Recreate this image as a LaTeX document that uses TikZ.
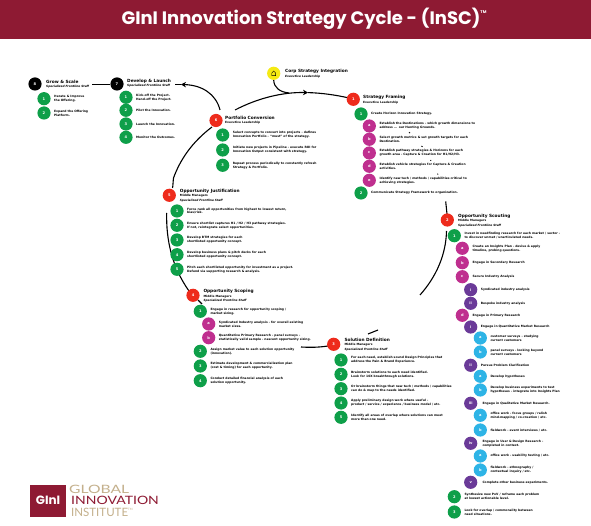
\documentclass[tikz,border=0pt]{standalone}
\usepackage{fontspec}
\usepackage{graphicx}
\usetikzlibrary{arrows.meta}
\setmainfont{DejaVu Sans}
\newfontfamily\titlef{Poppins}
\newfontfamily\logof{Lato}
\definecolor{ginired}{HTML}{8E1A33}
\definecolor{stepred}{HTML}{EE2B1C}
\definecolor{itemgreen}{HTML}{0E9F49}
\definecolor{itemmag}{HTML}{BF2F8F}
\definecolor{itempur}{HTML}{6A3A98}
\definecolor{itemcya}{HTML}{2EB4E6}
\definecolor{corpyel}{HTML}{F5EA14}
\definecolor{logotan}{HTML}{C4B08C}
\tikzset{
  x=1pt,y=-1pt,
  dotbase/.style={circle,inner sep=0pt,minimum size=13.2pt,text=white,font=\fontsize{3.6}{4}\selectfont\bfseries},
  reddot/.style={dotbase,fill=stepred},
  blackdot/.style={dotbase,fill=black},
  yeldot/.style={dotbase,fill=corpyel,text=black},
  gdot/.style={dotbase,fill=itemgreen},
  mdot/.style={dotbase,fill=itemmag},
  pdot/.style={dotbase,fill=itempur},
  cdot/.style={dotbase,fill=itemcya},
  bodytext/.style={anchor=west,inner sep=0pt,align=left,font=\fontsize{3}{3.9}\selectfont\bfseries,text=black},
  headtext/.style={anchor=west,inner sep=0pt,align=left,font=\fontsize{4.3}{4.6}\selectfont\bfseries,text=black},
  roletext/.style={anchor=north west,inner sep=0pt,align=left,font=\fontsize{2.9}{4.6}\selectfont\bfseries,text=black},
  flow/.style={line width=1.1pt,black},
  flowarrow/.style={flow,-{Stealth[length=5pt,width=5.5pt]}},
  logotext/.style={anchor=west,inner sep=0pt,font=\logof\fontsize{11.5}{11.5}\selectfont},
}
\newcommand{\HD}[5]{\node[headtext] (#1h) at (#2,#3) {#4};\node[roletext] (#1r) at (#2,#3+3.2) {#5};}
\newcommand{\IT}[6]{\node[#2] (#1) at (#3,#4) {#5};\node[bodytext] (#1t) at (#3+10,#4) {#6};}
\newcommand{\ITB}[7]{\node[#2] (#1) at (#3,#4) {#5};\node[bodytext] (#1t) at (#7,#4) {#6};}
\begin{document}
\begin{tikzpicture}
\useasboundingbox (0,0) rectangle (591,526);
\fill[white] (0,0) rectangle (591,526);
\node[fill=ginired,minimum width=591pt,minimum height=39pt,anchor=north west,inner sep=0pt] (band) at (0,0) {};
\node[inner sep=0pt,text=white,font=\titlef\fontsize{18}{21}\selectfont\bfseries] (title) at (304,18.5) {GInI Innovation Strategy Cycle - (InSC)\raisebox{1.1ex}{\fontsize{4}{4}\selectfont TM}};

% free ends of connectors
\coordinate (a6o) at (235,110);
\coordinate (a1tip) at (308,92.6);
\coordinate (a1i) at (349,98);
\coordinate (ymerge) at (289,93);
\coordinate (a7s) at (220,110);
\coordinate (a7tip) at (181,84.5);
\coordinate (a7e) at (175,84.5);
\coordinate (n8e) at (92,84.7);
\coordinate (n7w) at (110,84.7);
\coordinate (a2s) at (445.7,201.5);
\coordinate (a2e) at (447,214);
\coordinate (b2s) at (446.5,231);
\coordinate (b2e) at (420,295);
\coordinate (c3s) at (378,330);
\coordinate (c3e) at (368,334);
\coordinate (d3s) at (328,346);
\coordinate (d3e) at (301,347);
\coordinate (e4s) at (202,304);
\coordinate (e4e) at (198,300);
\coordinate (f4s) at (189,291);
\coordinate (f5e) at (166.7,213);
\coordinate (g5s) at (172.5,188);
\coordinate (g6e) at (212,127);

% connectors
\draw[flowarrow] (a6o) .. controls (258,98) and (283,92) .. (a1tip);
\draw[flow] (a1tip) .. controls (322,93) and (336,95) .. (a1i);
\draw[flow] (273.7,80) .. controls (274,88) and (280,92) .. (ymerge);
\draw[flowarrow] (a7s) .. controls (216,94) and (202,85) .. (a7tip);
\draw[flow] (a7tip) -- (a7e);
\draw[flow] (n8e) -- (n7w);
\draw[flow] (a2s) -- (a2e);
\draw[flow] (b2s) .. controls (446,255) and (436,277) .. (b2e);
\draw[flow] (c3s) -- (c3e);
\draw[flow] (d3s) .. controls (318,347.5) and (310,347.5) .. (d3e);
\draw[flow] (e4s) -- (e4e);
\draw[flow] (f4s) .. controls (172,267) and (166,240) .. (f5e);
\draw[flow] (g5s) .. controls (173,186) and (173,182) .. (173.5,178) .. controls (180,160) and (192,142) .. (g6e);
\foreach \x/\y/\u/\v in {409/132.3/410/133,421.5/146/422.5/146.8,430.5/160/431/160.8,437.5/173.7/438/174.5}
  \draw[line width=0.9pt] (\x,\y) -- (\u,\v);

% Strategy integration
\node[yeldot] (corp) at (273.7,73.3) {};
\draw[black,line width=0.35pt] (271.8,75.6) -- (271.8,73) -- (273.7,71) -- (275.6,73) -- (275.6,75.6) -- cycle;
\HD{corp}{285}{71.5}{Corp Strategy Integration}{\itshape Executive Leadership}

% 8 Grow & scale
\node[blackdot] (s8) at (35,84) {8};
\HD{s8}{46}{82}{Grow \& Scale}{\itshape Specialized Frontline Staff}
\IT{g1}{gdot}{44}{98.7}{1}{Iterate \& Improve\\the Offering.}
\IT{g2}{gdot}{44}{113}{2}{Expand the Offering\\Platform.}

% 7 Develop
\node[blackdot] (s7) at (117,84) {7};
\HD{s7}{127}{81}{Develop \& Launch}{\itshape Specialized Frontline Staff}
\IT{d1}{gdot}{126}{97.3}{1}{Kick-off the Project.\\Hand-off the Project.}
\IT{d2}{gdot}{126}{110.3}{2}{Pilot the Innovation.}
\IT{d3}{gdot}{126}{124}{3}{Launch the Innovation.}
\IT{d4}{gdot}{126}{137.3}{4}{Monitor the Outcomes.}

% 6 Portfolio
\node[reddot] (s6) at (216,120.5) {6};
\HD{s6}{225}{118}{Portfolio Conversion}{Executive Leadership}
\IT{p1}{gdot}{222.7}{135}{1}{Select concepts to convert into projects - defines\\Innovation Portfolio - ``must'' of the strategy.}
\IT{p2}{gdot}{222.7}{150}{2}{Initiate new projects in Pipeline - execute ROI for\\Innovation Output consistent with strategy.}
\IT{p3}{gdot}{222.7}{165.3}{3}{Repeat process periodically to constantly refresh\\Strategy \& Portfolio.}

% 1 Strategy framing
\node[reddot] (s1) at (353.3,99.3) {1};
\HD{s1}{363}{97.5}{Strategy Framing}{Executive Leadership}
\IT{f1}{gdot}{361}{114}{1}{Create Horizon Innovation Strategy.}
\IT{fa}{mdot}{369.3}{126}{a}{Establish the Destinations - which growth dimensions to\\address ... our Hunting Grounds.}
\IT{fb}{mdot}{369.3}{139.3}{b}{Select growth metrics \& set growth targets for each\\Destination.}
\IT{fc}{mdot}{369.3}{153}{c}{Establish pathway strategies \& Horizons for each\\growth area - Capture \& Creation for H1/H2/H3.}
\IT{fd}{mdot}{369.3}{166.3}{d}{Establish vehicle strategies for Capture \& Creation\\activities.}
\IT{fe}{mdot}{369.3}{180.3}{e}{Identify new tech / methods / capabilities critical to\\achieving strategies.}
\IT{f2}{gdot}{361}{193}{2}{Communicate Strategy Framework to organization.}

% 2 Opportunity Scouting
\node[reddot] (s2) at (447.3,220) {2};
\HD{s2}{458}{216}{Opportunity Scouting}{Middle Managers\\\itshape Specialized Frontline Staff}
\IT{o1}{gdot}{454.3}{235.7}{1}{Invest in needfinding research for each market / sector -\\to discover unmet / unarticulated needs.}
\IT{oa}{mdot}{462.3}{248.3}{a}{Create an Insights Plan - devise \& apply\\timeline, probing questions.}
\IT{ob}{mdot}{462.3}{262.7}{b}{Engage in Secondary Research}
\IT{oc}{mdot}{462.3}{276.7}{c}{Secure Industry Analysis}
\IT{oci}{pdot}{470.7}{289.7}{i}{Syndicated industry analysis}
\IT{ocii}{pdot}{470.7}{303.3}{ii}{Bespoke industry analysis}
\IT{od}{mdot}{462.3}{315.3}{d}{Engage in Primary Research}
\IT{odi}{pdot}{470.7}{327}{i}{Engage in Quantitative Market Research}
\IT{odia}{cdot}{480.3}{338}{a}{customer surveys - studying\\current customers}
\IT{odib}{cdot}{480.3}{352}{b}{panel surveys - looking beyond\\current customers}
\IT{odii}{pdot}{470.7}{365.3}{ii}{Pursue Problem Clarification}
\IT{odiia}{cdot}{480.3}{376.3}{a}{Develop hypotheses}
\IT{odiib}{cdot}{480.3}{390}{b}{Develop business experiments to test\\hypotheses - integrate into Insights Plan}
\ITB{odiii}{pdot}{470.7}{403.3}{iii}{Engage in Qualitative Market Research.}{482.3}
\IT{odiiia}{cdot}{480.3}{415.3}{a}{office work - focus groups / ralish\\mind-mapping / co-creation / etc.}
\IT{odiiib}{cdot}{480.3}{430}{b}{fieldwork - event interviews / etc.}
\ITB{odiv}{pdot}{470.7}{443.3}{iv}{Engage in User \& Design Research -\\completed in context.}{482.3}
\IT{odiva}{cdot}{480.3}{456}{a}{office work - usability testing / etc.}
\IT{odivb}{cdot}{480.3}{470}{b}{fieldwork - ethnography /\\contextual inquiry / etc.}
\ITB{odv}{pdot}{470.7}{482.3}{v}{Complete other business experiments.}{482.3}
\IT{o2}{gdot}{454.3}{496.7}{2}{Synthesize new PoV / reframe each problem\\at lowest actionable level.}
\IT{o3}{gdot}{454.3}{512}{3}{Look for overlap / commonality between\\need situations.}

% 3 Solution Definition
\node[reddot] (s3) at (333.7,344.3) {3};
\HD{s3}{344.3}{340}{Solution Definition}{Middle Managers\\\itshape Specialized Frontline Staff}
\IT{q1}{gdot}{341}{360}{1}{For each need, establish sound Design Principles that\\address the Pain \& Brand Experience.}
\IT{q2}{gdot}{341}{374.3}{2}{Brainstorm solutions to each need identified.\\Look for 10X breakthrough solutions.}
\IT{q3}{gdot}{341}{388.7}{3}{Or brainstorm things that new tech / methods / capabilities\\can do \& map to the needs identified.}
\IT{q4}{gdot}{341}{403}{4}{Apply preliminary design work where useful -\\product / service / experience / business model / etc.}
\IT{q5}{gdot}{341}{417.3}{5}{Identify all areas of overlap where solutions can meet\\more than one need.}

% 4 Opportunity Scoping
\node[reddot] (s4) at (193,295.3) {4};
\HD{s4}{203.3}{291.7}{Opportunity Scoping}{Middle Managers\\\itshape Specialized Frontline Staff}
\IT{r1}{gdot}{200.3}{311.3}{1}{Engage in research for opportunity scoping /\\market sizing.}
\IT{ra}{mdot}{208.7}{324}{a}{Syndicated Industry analysis - for overall existing\\market sizes.}
\IT{rb}{mdot}{208.7}{337.7}{b}{Quantitative Primary Research - panel surveys -\\statistically valid sample - nascent opportunity sizing.}
\IT{r2}{gdot}{200.3}{351.3}{2}{Assign market value to each solution opportunity\\(innovation).}
\IT{r3}{gdot}{200.3}{366}{3}{Estimate development \& commercialization plan\\(cost \& timing) for each opportunity.}
\IT{r4}{gdot}{200.3}{380.7}{4}{Conduct detailed financial analysis of each\\solution opportunity.}

% 5 Opportunity Justification
\node[reddot] (s5) at (169.3,195.3) {5};
\HD{s5}{179.7}{191}{Opportunity Justification}{Middle Managers\\\itshape Specialized Frontline Staff}
\IT{j1}{gdot}{177}{211}{1}{Force rank all opportunities from highest to lowest return,\\bias/risk.}
\IT{j2}{gdot}{177}{225.3}{2}{Ensure shortlist captures H1 / H2 / H3 pathway strategies.\\If not, reintegrate select opportunities.}
\IT{j3}{gdot}{177}{240}{3}{Develop BTM strategies for each\\shortlisted opportunity concept.}
\IT{j4}{gdot}{177}{254.7}{4}{Develop business plans \& pitch decks for each\\shortlisted opportunity concept.}
\IT{j5}{gdot}{177}{269.3}{5}{Pitch each shortlisted opportunity for investment as a project.\\Defend via supporting research \& analysis.}

% logo
\node[fill=ginired,minimum width=35.7pt,minimum height=32.4pt,inner sep=0pt,anchor=north west,text=white,font=\titlef\fontsize{12}{14}\selectfont\bfseries] (logo) at (30,484.3) {GInI};
\node[logotext,text=logotan] (l1) at (69,489.3) {\scalebox{1.36}[1]{GLOBAL}};
\node[logotext,text=ginired] (l2) at (71,500.6) {\scalebox{1.22}[1]{INNOVATION}};
\node[logotext,text=logotan] (l3) at (71,512) {INSTITUTE\raisebox{.9ex}{\fontsize{3}{3}\selectfont TM}};
\end{tikzpicture}
\end{document}
